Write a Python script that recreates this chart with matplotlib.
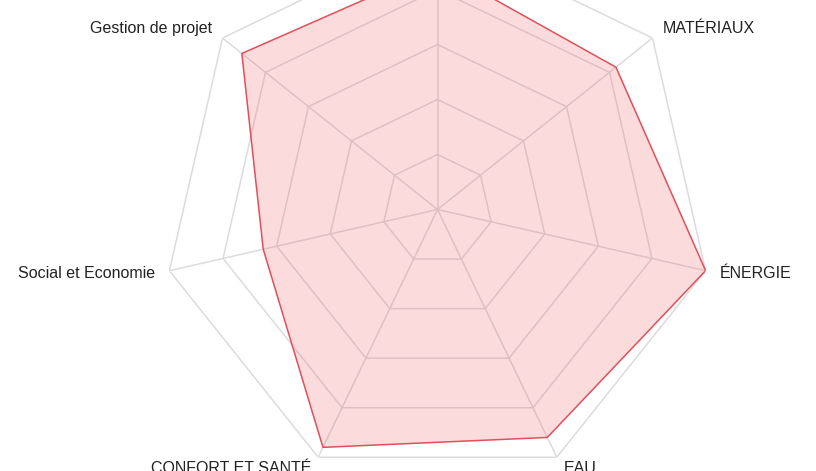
import numpy as np
import matplotlib
matplotlib.use("Agg")
import matplotlib.pyplot as plt

categories = ["TERRITOIRE ET SITE", "MATÉRIAUX", "ÉNERGIE", "EAU",
              "CONFORT ET SANTÉ", "Social et Economie", "Gestion de projet"]
values = [88, 83, 100, 92, 96, 65, 91]
ring_levels = [20, 40, 60, 80, 100]
r_max = 100

# label offsets in pixels (dx, dy) relative to outer vertex, and alignment
label_style = {
    "MATÉRIAUX": (10, 5, "left"),
    "ÉNERGIE": (14, -7.6, "left"),
    "EAU": (6.5, -16, "left"),
    "CONFORT ET SANTÉ": (-6.5, -16, "right"),
    "Social et Economie": (-14, -7.6, "right"),
    "Gestion de projet": (-10.5, 5, "right"),
}

plt.rcParams['font.family'] = ['Liberation Sans', 'DejaVu Sans']

W, H = 816, 471
fig = plt.figure(figsize=(W / 100, H / 100), dpi=100)
cx, cy, R = 437.5, 209.5, 275
ax = fig.add_axes([(cx - R) / W, (H - cy - R) / H, 2 * R / W, 2 * R / H],
                  projection='polar')
ax.set_theta_offset(np.pi / 2)
ax.set_theta_direction(-1)
ax.set_ylim(0, r_max)
ax.grid(False)
ax.set_xticks([])
ax.set_yticks([])
ax.spines['polar'].set_visible(False)
ax.patch.set_alpha(0)

n = len(categories)
angles = np.linspace(0, 2 * np.pi, n, endpoint=False)
closed = np.concatenate([angles, angles[:1]])

grid_color = '#dcdcdc'
for lvl in ring_levels:
    ax.plot(closed, [lvl] * (n + 1), color=grid_color, lw=1.1, zorder=1)
for a in angles:
    ax.plot([a, a], [0, r_max], color=grid_color, lw=1.1, zorder=1)

vals = np.array(values + values[:1], dtype=float)
ax.fill(closed, vals, color=(0.94, 0.31, 0.35, 0.2), zorder=2, lw=0)
ax.plot(closed, vals, color='#e0505a', lw=1.1, zorder=3)

for a, cat in zip(angles, categories):
    if cat not in label_style:
        continue
    dx, dy, ha = label_style[cat]
    ax.annotate(cat, xy=(a, r_max), xytext=(dx, dy), textcoords='offset pixels',
                ha=ha, va='baseline', fontsize=11.5, color='#222222',
                annotation_clip=False)

fig.savefig("out.png", dpi=100)
